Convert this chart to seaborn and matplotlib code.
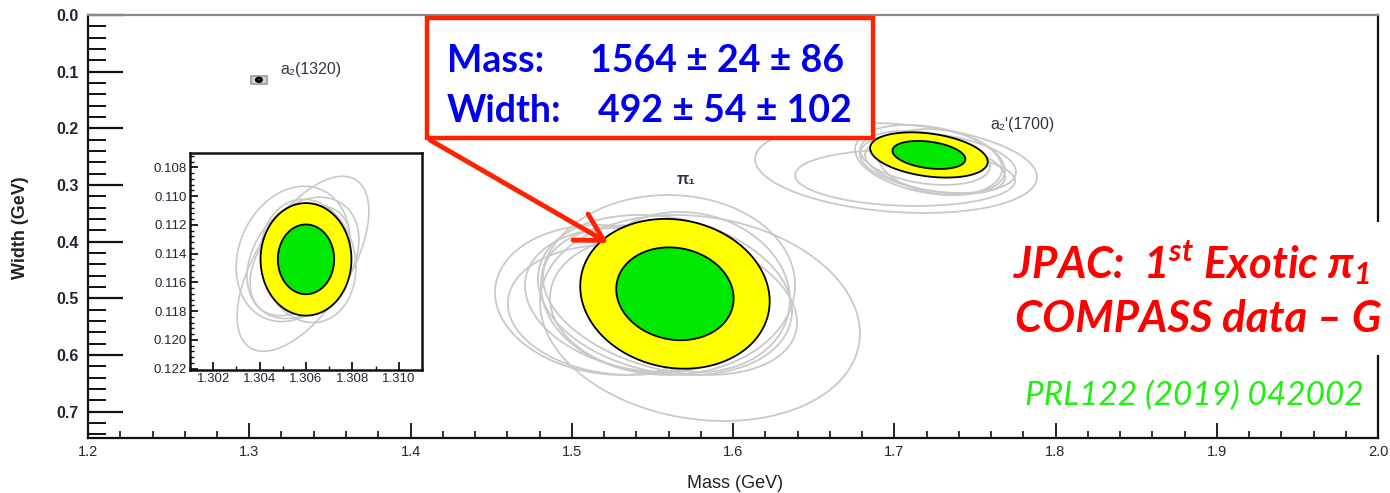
import numpy as np
import pandas as pd
import matplotlib
matplotlib.use("Agg")
import matplotlib.pyplot as plt
import seaborn as sns
from matplotlib.patches import Rectangle, ConnectionPatch
from matplotlib.ticker import MultipleLocator, FixedLocator, FormatStrFormatter

# ---------------- data (GeV) ----------------
# pole fit results: mass, width, stat. uncertainties, correlation
res_names = ["a2(1320)", "pi1", "a2'(1700)"]
res_mass = [1.3060, 1.564, 1.7215]
res_width = [0.1144, 0.492, 0.247]
res_sig_m = [0.0008, 0.024, 0.0149]
res_sig_w = [0.0016, 0.054, 0.0163]
res_rho = [0.0, 0.1, 0.3]

# systematic variants (grey contours): centre, half extents, correlation
pi1_sys_mass = [1.5795, 1.5597, 1.5237, 1.5299, 1.5423, 1.5578, 1.5609, 1.5485, 1.5733]
pi1_sys_width = [0.5347, 0.4764, 0.5029, 0.5206, 0.5029, 0.4941, 0.5029, 0.5117, 0.4888]
pi1_sys_dm = [0.0992, 0.0788, 0.0713, 0.0695, 0.0713, 0.0788, 0.0788, 0.0620, 0.0620]
pi1_sys_dw = [0.1818, 0.1588, 0.1323, 0.1147, 0.1271, 0.1412, 0.1323, 0.1200, 0.1412]
pi1_sys_rho = [0.15, 0.0, 0.1, 0.1, 0.2, 0.2, 0.3, 0.1, 0.1]

a2p_sys_mass = [1.7011, 1.7067, 1.7222, 1.7271, 1.7253, 1.7191, 1.7284]
a2p_sys_width = [0.2700, 0.2876, 0.2559, 0.2612, 0.2665, 0.2523, 0.2594]
a2p_sys_dm = [0.0874, 0.0682, 0.0465, 0.0484, 0.0434, 0.0403, 0.0384]
a2p_sys_dw = [0.0794, 0.0494, 0.0618, 0.0529, 0.0494, 0.0476, 0.0582]
a2p_sys_rho = [0.2, 0.1, 0.3, 0.3, 0.4, 0.3, 0.2]

a2_sys_mass = [1.30587, 1.30544, 1.30587, 1.30609, 1.30574]
a2_sys_width = [0.11471, 0.11402, 0.11430, 0.11451, 0.11451]
a2_sys_dm = [0.00284, 0.00245, 0.00241, 0.00206, 0.00215]
a2_sys_dw = [0.00609, 0.00471, 0.00422, 0.00429, 0.00381]
a2_sys_rho = [-0.6, -0.2, -0.3, 0.1, -0.4]

# confidence levels of the 2D contours (chi2 for 2 dof: 68 %, 95 %)
chi2_levels = [2.30, 5.99]
level_colors = ["#00e800", "#ffff00"]

main_xticks = [1.2, 1.3, 1.4, 1.5, 1.6, 1.7, 1.8, 1.9, 2.0]
main_yticks = [0.0, 0.1, 0.2, 0.3, 0.4, 0.5, 0.6, 0.7]
inset_xticks = [1.302, 1.304, 1.306, 1.308, 1.310]
inset_yticks = [0.108, 0.110, 0.112, 0.114, 0.116, 0.118, 0.120, 0.122]


def ellipse(cm, cw, dm, dw, rho, n=241):
    t = np.linspace(0, 2 * np.pi, n)
    m = cm + dm * np.cos(t)
    w = cw + dw * (rho * np.cos(t) + np.sqrt(1 - rho ** 2) * np.sin(t))
    return m, w


def sys_frame(tag, ms, ws, dms, dws, rhos):
    parts = []
    for i, (cm, cw, dm, dw, r) in enumerate(zip(ms, ws, dms, dws, rhos)):
        m, w = ellipse(cm, cw, dm, dw, r)
        parts.append(pd.DataFrame({"mass": m, "width": w, "id": f"{tag}{i}"}))
    return pd.concat(parts, ignore_index=True)


# ---------------- style ----------------
sns.set_theme(style="ticks")
plt.rcParams["font.family"] = ["Liberation Sans", "DejaVu Sans"]
plt.rcParams["mathtext.fontset"] = "custom"
plt.rcParams["mathtext.it"] = "Lato:italic:bold"
plt.rcParams["mathtext.rm"] = "Lato:italic:bold"
plt.rcParams["mathtext.bf"] = "Lato:italic:bold"

W, H = 1390, 493
fig = plt.figure(figsize=(W / 100, H / 100), dpi=100)
fig.patch.set_facecolor("white")

ax = fig.add_axes([88 / W, (H - 438) / H, 1290 / W, 423 / H])
ax.set_facecolor("white")

grey = "#c9c9c9"
sys_all = pd.concat([
    sys_frame("pi", pi1_sys_mass, pi1_sys_width, pi1_sys_dm, pi1_sys_dw, pi1_sys_rho),
    sys_frame("ap", a2p_sys_mass, a2p_sys_width, a2p_sys_dm, a2p_sys_dw, a2p_sys_rho),
], ignore_index=True)
sns.lineplot(data=sys_all, x="mass", y="width", units="id", estimator=None,
             sort=False, color=grey, lw=1.3, legend=False, ax=ax, zorder=1)

for k in range(3):
    for lev, col in zip(chi2_levels[::-1], level_colors[::-1]):
        s = np.sqrt(lev)
        m, w = ellipse(res_mass[k], res_width[k], s * res_sig_m[k], s * res_sig_w[k], res_rho[k])
        ax.fill(m, w, facecolor=col, edgecolor="black", lw=1.3, zorder=3)

ax.set_xlim(1.2, 2.0)
ax.set_ylim(0.7465, 0.0)
ax.xaxis.set_major_locator(FixedLocator(main_xticks))
ax.yaxis.set_major_locator(FixedLocator(main_yticks))
ax.xaxis.set_minor_locator(MultipleLocator(0.02))
ax.yaxis.set_minor_locator(MultipleLocator(0.02))
ax.xaxis.set_major_formatter(FormatStrFormatter("%.1f"))
ax.yaxis.set_major_formatter(FormatStrFormatter("%.1f"))
tick_col = "#252535"
ax.tick_params(axis="y", which="major", direction="in", length=25, width=1.6,
               color="#111111", labelsize=11.5, pad=7, labelcolor=tick_col)
ax.tick_params(axis="y", which="minor", direction="in", length=13, width=1.4, color="#111111")
ax.tick_params(axis="x", which="major", direction="in", length=11, width=1.3,
               color="#111111", labelsize=10.5, pad=5, labelcolor=tick_col)
ax.tick_params(axis="x", which="minor", direction="in", length=5, width=1.2, color="#111111")
for lab in ax.get_yticklabels():
    lab.set_fontweight("bold")
for side in ["left", "bottom", "right"]:
    ax.spines[side].set_color("#111111")
    ax.spines[side].set_linewidth(1.6)
ax.spines["top"].set_color("#8a8a8a")
ax.spines["top"].set_linewidth(1.6)

ax.set_xlabel("Mass (GeV)", fontsize=13, color="#222222")
ax.xaxis.set_label_coords(0.5016, -0.088)
ax.xaxis.label.set_va("top")
ax.set_ylabel("Width (GeV)", fontsize=13, fontweight="bold", color="#222222")
ax.yaxis.set_label_coords(-0.046, 0.497)

lab_col = "#333344"
ax.text(1.319, 0.097, "a₂(1320)", fontsize=11.5, color=lab_col, ha="left", va="center")
ax.text(1.7594, 0.194, "a₂'(1700)", fontsize=11.5, color=lab_col, ha="left", va="center")
ax.text(1.5708, 0.291, "π₁", fontsize=11.5, color=lab_col, ha="center", va="center",
        fontweight="bold")

# zoom window around a2(1320)
ix0, ix1 = 1.301, 1.311
iy0, iy1 = 0.107, 0.122
ax.add_patch(Rectangle((ix0, iy0), ix1 - ix0, iy1 - iy0, facecolor="#d5d5d5",
                       edgecolor="#9a9a9a", lw=1.2, zorder=2))

# ---------------- inset ----------------
ins = fig.add_axes([190 / W, (H - 370) / H, 232 / W, 217 / H])
ins.set_facecolor("white")
sys_a2 = sys_frame("a2", a2_sys_mass, a2_sys_width, a2_sys_dm, a2_sys_dw, a2_sys_rho)
sns.lineplot(data=sys_a2, x="mass", y="width", units="id", estimator=None,
             sort=False, color=grey, lw=1.2, legend=False, ax=ins, zorder=1)
for lev, col in zip(chi2_levels[::-1], level_colors[::-1]):
    s = np.sqrt(lev)
    m, w = ellipse(res_mass[0], res_width[0], s * res_sig_m[0], s * res_sig_w[0], res_rho[0])
    ins.fill(m, w, facecolor=col, edgecolor="black", lw=1.3, zorder=3)
ins.set_xlim(ix0, ix1)
ins.set_ylim(0.1221, iy0)
ins.xaxis.set_major_locator(FixedLocator(inset_xticks))
ins.yaxis.set_major_locator(FixedLocator(inset_yticks))
ins.xaxis.set_minor_locator(MultipleLocator(0.001))
ins.yaxis.set_minor_locator(MultipleLocator(0.0004))
ins.xaxis.set_major_formatter(FormatStrFormatter("%.3f"))
ins.yaxis.set_major_formatter(FormatStrFormatter("%.3f"))
ins.tick_params(which="major", direction="in", length=6, width=1.3, color="#111111",
                labelsize=9.5, pad=2, labelcolor=tick_col)
ins.tick_params(which="minor", direction="in", length=3, width=1.0, color="#111111")
ins.set_xlabel("")
ins.set_ylabel("")
for side in ins.spines:
    ins.spines[side].set_color("#111111")
    ins.spines[side].set_linewidth(1.8)

for (xa, ya), (xb, yb) in [((ix0, iy1), (0, 1)), ((ix1, iy0), (1, 1))]:
    con = ConnectionPatch(xyA=(xa, ya), coordsA=ax.transData, xyB=(xb, yb),
                          coordsB=ins.transAxes, color="#8a8a8a", lw=1.3, zorder=0)
    fig.add_artist(con)

# ---------------- annotation overlay ----------------
red = "#ff2200"
fig.patches.append(Rectangle((427 / W, (H - 138) / H), 446 / W, 120 / H,
                             transform=fig.transFigure, facecolor="white",
                             edgecolor=red, lw=3.2, zorder=5, figure=fig))
blue = "#0000ee"
box_font = dict(fontfamily=["Lato", "DejaVu Sans"], fontweight="bold", fontsize=27,
                color=blue, zorder=6)
fig.text(447 / W, (H - 72) / H, "Mass:", ha="left", va="baseline", **box_font)
fig.text(590 / W, (H - 72) / H, "1564 ± 24 ± 86", ha="left", va="baseline", **box_font)
fig.text(447 / W, (H - 122) / H, "Width:", ha="left", va="baseline", **box_font)
fig.text(598 / W, (H - 122) / H, "492 ± 54 ± 102", ha="left", va="baseline", **box_font)

ax.annotate("", xy=(1.5225, 0.4023), xycoords="data",
            xytext=(430 / W, (H - 140) / H), textcoords="figure fraction",
            arrowprops=dict(arrowstyle="->,head_length=0.8,head_width=0.45",
                            color=red, lw=3.5, mutation_scale=24,
                            shrinkA=0, shrinkB=0), zorder=6)

fig.patches.append(Rectangle((1000 / W, (H - 355) / H), 390 / W, 133 / H,
                             transform=fig.transFigure, facecolor="white",
                             edgecolor="none", zorder=5, figure=fig))
red_font = dict(fontfamily=["Lato", "DejaVu Sans"], fontweight="bold", fontstyle="italic",
                fontsize=31.5, color="#ff0000", zorder=6)
fig.text(1013 / W, (H - 279) / H, r"JPAC:  1$^{st}$ Exotic π$_{1}$", ha="left",
         va="baseline", **red_font)
fig.text(1015 / W, (H - 332) / H, "COMPASS data – G", ha="left", va="baseline",
         **red_font)
fig.text(1025 / W, (H - 405) / H, "PRL122 (2019) 042002", ha="left", va="baseline",
         fontfamily=["Lato", "DejaVu Sans"], fontstyle="italic", fontsize=24,
         color="#22ee11", zorder=6)

fig.savefig("out.png", dpi=100, facecolor="white")
